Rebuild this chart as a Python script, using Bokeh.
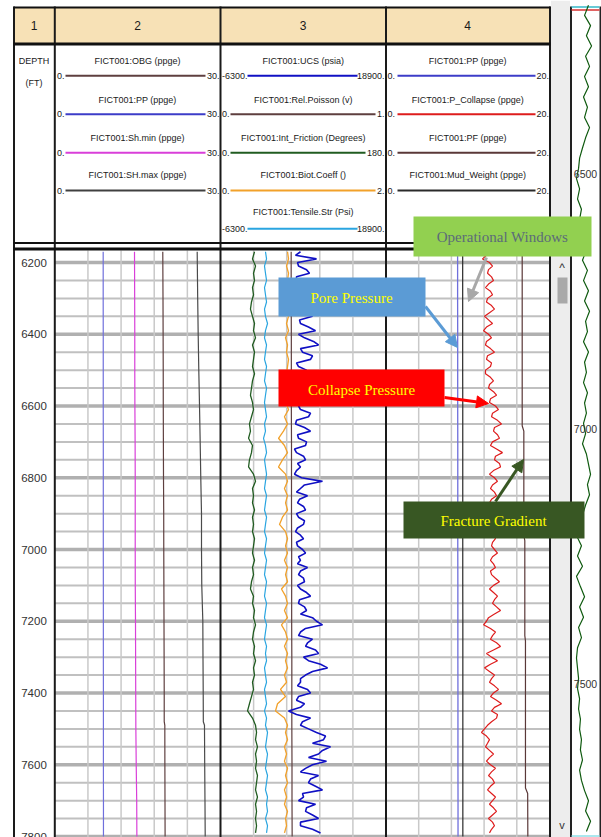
from bokeh.plotting import figure
from bokeh.models import Range1d, Arrow, NormalHead
from bokeh.core.properties import value
from bokeh.embed import file_html
from bokeh.resources import INLINE

# ---------------- data ----------------
DEPTH = list(range(6170, 7800, 20))       # sample depths (ft), 20 ft step
DEPTH_FINE = list(range(6170, 7800, 10))  # sample depths (ft), 10 ft step

UCS = [5880, 5120, 8320, 5430, 5580, 6800, 7250, 5270, 5270, 6340,
       6650, 5580, 5880, 6950, 7410, 5430, 5580, 6490, 7710, 5730,
       5880, 7100, 8170, 5580, 6490, 7860, 8630, 5880, 6190, 7710,
       7410, 5270, 5580, 6800, 6650, 5730, 5880, 6650, 7100, 5430,
       6190, 6950, 6800, 5580, 5880, 7410, 7100, 5270, 5120, 6490,
       7410, 5430, 5580, 6800, 6650, 4970, 5270, 6340, 6650, 5430,
       5880, 5270, 4970, 6040, 9230, 6490, 5880, 5270, 6950, 5730,
       5430, 6340, 6650, 5270, 5580, 6490, 6340, 5430, 5120, 5880,
       6340, 5270, 5430, 6190, 6650, 5580, 5880, 5430, 6950, 5880,
       5580, 6340, 6490, 5430, 5880, 6800, 7410, 5730, 5580, 6490,
       6800, 5880, 7710, 8320, 9230, 6650, 5880, 5580, 7710, 6950,
       6650, 8170, 8630, 6340, 7100, 8930, 10000, 7710, 6650, 5880,
       5880, 5430, 6950, 7410, 5580, 5270, 6490, 5880, 4060, 5270,
       7410, 6190, 5880, 7100, 8320, 9690, 9390, 7710, 10450, 9230,
       8630, 7100, 9840, 7710, 6650, 5880, 8630, 7410, 7100, 8170,
       9230, 6190, 6340, 5580, 8170, 6800, 6650, 7710, 8630, 5880,
       5880, 7710, 8930]

P_COLLAPSE = [12.78, 12.29, 11.80, 12.66, 13.03, 12.54, 12.42, 12.91, 13.15, 12.54,
              12.17, 12.78, 13.03, 12.42, 12.29, 12.91, 13.27, 12.66, 12.05, 12.54,
              13.03, 12.29, 11.93, 12.54, 12.91, 12.29, 12.17, 12.78, 13.27, 12.42,
              12.29, 12.91, 12.78, 12.17, 12.17, 12.78, 13.15, 12.66, 12.54, 13.15,
              13.52, 12.78, 12.66, 13.39, 13.76, 13.03, 12.91, 13.64, 14.13, 13.27,
              13.15, 13.64, 13.88, 13.03, 12.78, 13.52, 14.25, 13.39, 13.27, 13.88,
              14.01, 13.15, 12.66, 13.27, 13.64, 13.03, 12.78, 13.27, 13.52, 12.91,
              12.66, 13.15, 13.39, 12.78, 12.91, 13.39, 13.64, 13.03, 12.78, 13.27,
              13.39, 13.03, 12.91, 13.27, 13.64, 13.03, 12.78, 13.15, 13.39, 12.78,
              12.91, 13.39, 13.88, 13.15, 12.66, 13.15, 13.64, 13.27, 13.03, 13.52,
              14.01, 13.27, 12.54, 12.29, 11.93, 12.78, 13.39, 13.03, 12.78, 13.52,
              14.01, 13.15, 12.29, 12.91, 13.64, 12.78, 12.05, 12.66, 13.27, 12.91,
              12.66, 13.27, 13.76, 13.15, 12.78, 13.52, 14.13, 13.27, 12.91, 13.64,
              13.52, 12.91, 12.42, 12.05, 11.68, 12.29, 12.66, 12.42, 12.17, 12.66,
              13.15, 12.66, 12.29, 12.78, 13.39, 12.91, 12.54, 13.03, 13.27, 12.78,
              12.42, 12.91, 13.39, 13.03, 12.66, 13.15, 13.52, 13.03, 12.54, 13.03,
              13.27, 12.91, 12.66]

BIOT = [0.81, 0.822, 0.798, 0.822, 0.81, 0.798, 0.822, 0.81, 0.786, 0.822,
        0.798, 0.822, 0.786, 0.81, 0.798, 0.822, 0.81, 0.798, 0.822, 0.798,
        0.81, 0.786, 0.822, 0.773, 0.81, 0.761, 0.701, 0.773, 0.81, 0.749,
        0.701, 0.786, 0.81, 0.773, 0.81, 0.786, 0.81, 0.749, 0.713, 0.786,
        0.81, 0.786, 0.81, 0.773, 0.81, 0.786, 0.81, 0.737, 0.786, 0.81,
        0.773, 0.81, 0.737, 0.786, 0.81, 0.773, 0.81, 0.786, 0.81, 0.773,
        0.798, 0.725, 0.786, 0.689, 0.665, 0.773, 0.81, 0.786, 0.81, 0.773,
        0.798, 0.773, 0.81, 0.786, 0.81, 0.773, 0.798, 0.773, 0.81, 0.786,
        0.798, 0.773]

FRICTION = [37.0, 34.8, 38.1, 35.9, 37.0, 34.8, 35.9, 33.7, 32.6, 34.8,
            37.0, 35.9, 38.1, 34.8, 37.0, 35.9, 34.8, 37.0, 34.8, 33.7,
            32.6, 34.8, 35.9, 33.7, 31.5, 32.6, 30.5, 34.8, 33.7, 31.5,
            30.5, 35.9, 38.1, 34.8, 35.9, 34.8, 37.0, 34.8, 35.9, 34.8,
            37.0, 35.9, 34.8, 37.0, 34.8, 35.9, 33.7, 32.6, 35.9, 34.8,
            37.0, 35.9, 38.1, 35.9, 34.8, 37.0, 35.9, 38.1, 35.9, 37.0,
            34.8, 35.9, 33.7, 31.5, 29.4, 34.8, 38.1, 39.2, 38.1, 40.2,
            38.1, 39.2, 38.1, 40.2, 39.2, 38.1, 40.2, 38.1, 39.2, 38.1,
            39.2, 38.1]

TENSILE = [550, 710, 400, 550, 710, 400, 550, 710, 400, 550,
           860, 550, 400, 710, 550, 400, 710, 550, 400, 710,
           550, 400, 550, 710, 400, 550, 250, 550, 710, 400,
           550, 710, 550, 400, 710, 550, 400, 710, 550, 400,
           710, 550, 400, 710, 550, 400, 710, 550, 400, 710,
           550, 400, 710, 550, 400, 710, 550, 710, 400, 550,
           710, 400, 550, 710, 400, 710, 550, 860, 710, 550,
           860, 710, 550, 860, 710, 550, 860, 710, 860, 550,
           860, 710]

OVERVIEW_GR = [87, 68, 97, 77, 102, 73, 92, 68, 87, 63,
               82, 68, 92, 73, 58, 44, 39, 29, 44, 34,
               53, 44, 68, 48, 77, 58, 82, 63, 87, 68,
               92, 73, 82, 63, 87, 68, 77, 63, 82, 68,
               77, 63, 73, 58, 77, 87, 97, 82, 92, 73,
               58, 39, 29, 53, 34, 58, 29, 48, 68, 44,
               63, 39, 53, 34, 29, 34, 39, 34, 44, 39,
               48, 44, 53, 48, 58, 44, 53, 68, 87, 73,
               97, 77]

STRAIGHT_DEPTH = [6170, 6300, 6400, 6500, 6600, 6700, 6800, 6900, 7000, 7100,
                  7200, 7300, 7400, 7480, 7490, 7600, 7700, 7800]
OBG = [19.55, 19.59, 19.61, 19.63, 19.64, 19.66, 19.68, 19.72, 19.73, 19.75,
       19.77, 19.79, 19.81, 19.81, 19.92, 19.93, 19.95, 19.97]
SH_MAX = [25.78, 25.87, 25.96, 26.07, 26.20, 26.32, 26.43, 26.56, 26.56, 26.61,
          26.80, 26.83, 26.87, 26.89, 27.10, 27.14, 27.19, 27.23]
SH_MIN = [14.43, 14.46, 14.48, 14.48, 14.50, 14.54, 14.56, 14.56, 14.56, 14.57,
          14.61, 14.63, 14.65, 14.67, 14.67, 14.74, 14.83, 14.86]
PP = [8.76, 8.76, 8.77, 8.77, 8.77, 8.78, 8.78, 8.78, 8.78, 8.79,
      8.79, 8.79, 8.80, 8.80, 8.80, 8.80, 8.81, 8.81]
POISSON = [0.427, 0.427, 0.428, 0.428, 0.428, 0.429, 0.429, 0.429, 0.430, 0.430,
           0.430, 0.431, 0.431, 0.431, 0.431, 0.432, 0.432, 0.433]
MUD_WEIGHT = [9.38, 9.38, 9.38, 9.38, 9.39, 9.39, 9.39, 9.39, 9.39, 9.39,
              9.40, 9.40, 9.40, 9.40, 9.40, 9.40, 9.40, 9.40]

PF_DEPTH = [6170, 6655, 6670, 6960, 6975, 7240, 7255, 7665, 7680, 7800]
PF = [16.66, 16.66, 16.86, 16.86, 16.98, 16.98, 17.06, 17.06, 17.33, 17.35]

DEPTH_MAJOR = [6200, 6400, 6600, 6800, 7000, 7200, 7400, 7600, 7800]
DEPTH_MINOR = [6250, 6300, 6350, 6450, 6500, 6550, 6650, 6700, 6750, 6850, 6900, 6950,
               7050, 7100, 7150, 7250, 7300, 7350, 7450, 7500, 7550, 7650, 7700, 7750]
OVERVIEW_TICKS = [6500, 7000, 7500]

TRACK_TITLES = ["1", "2", "3", "4"]
T2_NAMES = ["FICT001:OBG (ppge)", "FICT001:PP (ppge)", "FICT001:Sh.min (ppge)", "FICT001:SH.max (ppge)"]
T2_LEFT = ["0.", "0.", "0.", "0."]
T2_RIGHT = ["30.", "30.", "30.", "30."]
T3_NAMES = ["FICT001:UCS (psia)", "FICT001:Rel.Poisson (v)", "FICT001:Int_Friction (Degrees)",
            "FICT001:Biot.Coeff ()", "FICT001:Tensile.Str (Psi)"]
T3_LEFT = ["-6300.", "0.", "0.", "0.", "-6300."]
T3_RIGHT = ["18900.", "1.", "180.", "2.", "18900."]
T4_NAMES = ["FICT001:PP (ppge)", "FICT001:P_Collapse (ppge)", "FICT001:PF (ppge)", "FICT001:Mud_Weight (ppge)"]
T4_LEFT = ["0.", "0.", "0.", "0."]
T4_RIGHT = ["20.", "20.", "20.", "20."]

# ---------------- styling ----------------
C_OBG = "#5e3f3f"
C_PP = "#3c3cc8"
C_SHMIN = "#d93fd9"
C_SHMAX = "#404040"
C_UCS = "#1010c4"
C_POIS = "#5e3f3f"
C_FRIC = "#215c21"
C_BIOT = "#f2a12a"
C_TENS = "#2aa5e0"
C_COLL = "#de1c1c"
C_PF = "#5a3838"
C_MW = "#2a2a2a"

SANS = value("Liberation Sans")
SERIF = value("Liberation Serif")

FX0, FX1, FY0, FY1 = 0, 601, 0, 837


def span_range(a, b, v0, v1):
    k = (v1 - v0) / (b - a)
    return Range1d(v0 - (a - FX0) * k, v1 + (FX1 - b) * k)


def depth_range(y_ref, d_ref, px_per_ft):
    return Range1d(d_ref + (FY1 - y_ref) / px_per_ft, d_ref - (y_ref - FY0) / px_per_ft)


T2 = (54.3, 220)
T3 = (220, 385.5)
T4 = (385.5, 549)

p = figure(width=601, height=837, x_range=Range1d(FX0, FX1), y_range=Range1d(FY1, FY0),
           output_backend="svg", toolbar_location=None, min_border=0,
           x_axis_location=None, y_axis_location=None, title=None)
p.xgrid.visible = False
p.ygrid.visible = False
p.outline_line_color = None
p.background_fill_color = "white"
p.border_fill_color = "white"

p.extra_x_ranges = {
    "t2": span_range(*T2, 0, 30),
    "ucs": span_range(*T3, -6300, 18900),
    "pois": span_range(*T3, 0, 1),
    "fric": span_range(*T3, 0, 180),
    "biot": span_range(*T3, 0, 2),
    "t4": span_range(*T4, 0, 20),
    "ov": span_range(570, 601, 0, 150),
}
p.extra_y_ranges = {
    "depth": depth_range(262, 6200, 0.35875),
    "ovdepth": depth_range(173, 6500, 0.51),
}


def txt(x, y, s, size, color="#1a1a1a", align="center", font=SANS, **kw):
    p.text(x=x, y=y, text=s, text_font=font, text_font_size=size, text_color=color,
           text_align=align, text_baseline="middle", **kw)


# scrollbar + overview strip backgrounds
p.quad(left=[550.5], right=[569.5], top=[0], bottom=[FY1], fill_color="#ededed", line_color=None)
p.quad(left=[557], right=[567], top=[277], bottom=[303], fill_color="#a9a9a9", line_color=None)
txt([561.5], [267], ["^"], "12px", color="#333333")
txt([561.5], [824], ["v"], "11px", color="#333333")
p.segment(x0=[570.5, 600], x1=[570.5, 600], y0=[6, 6], y1=[FY1, FY1], line_color="#222222", line_width=2)
p.segment(x0=[571, 571, 571], x1=[599, 599, 599], y0=[6.5, 9.5, 835.5], y1=[6.5, 9.5, 835.5],
          line_color=["#35b8c8", "#d83030", "#8fe0e8"], line_width=1.5)

# header band
p.quad(left=[13], right=[549], top=[7], bottom=[42.5], fill_color="#f7e1b6", line_color=None)
txt([33.5, 137, 302.7, 467.2], [25, 25, 25, 25], TRACK_TITLES, "12px")

# horizontal depth grid (tracks 2-4)
p.segment(x0=[T2[0]] * len(DEPTH_MINOR), x1=[T4[1]] * len(DEPTH_MINOR), y0=DEPTH_MINOR, y1=DEPTH_MINOR,
          y_range_name="depth", line_color="#c0c0c0", line_width=2)
p.segment(x0=[T2[0]] * len(DEPTH_MAJOR), x1=[T4[1]] * len(DEPTH_MAJOR), y0=DEPTH_MAJOR, y1=DEPTH_MAJOR,
          y_range_name="depth", line_color="#b0b0b0", line_width=3.5)

# vertical grids
for rname, ticks in (("t2", [6, 12, 18, 24]), ("pois", [0.2, 0.4, 0.6, 0.8]), ("t4", [4, 8, 12, 16])):
    p.segment(x0=ticks, x1=ticks, y0=[250] * 4, y1=[FY1] * 4, x_range_name=rname,
              line_color="#c9c9c9", line_width=1.5)

# depth labels
txt([33.5] * len(DEPTH_MAJOR), DEPTH_MAJOR, [str(d) for d in DEPTH_MAJOR], "11.5px",
    color="#333333", y_range_name="depth")

# track 2 curves
p.line(PP, STRAIGHT_DEPTH, x_range_name="t2", y_range_name="depth", line_color="#6f6fdc", line_width=1.2)
p.line(SH_MIN, STRAIGHT_DEPTH, x_range_name="t2", y_range_name="depth", line_color=C_SHMIN, line_width=1.2)
p.line(OBG, STRAIGHT_DEPTH, x_range_name="t2", y_range_name="depth", line_color=C_OBG, line_width=1.2)
p.line(SH_MAX, STRAIGHT_DEPTH, x_range_name="t2", y_range_name="depth", line_color="#4a4a4a", line_width=1.2)

# track 3 curves
p.line(FRICTION, DEPTH, x_range_name="fric", y_range_name="depth", line_color=C_FRIC, line_width=1.3)
p.line(TENSILE, DEPTH, x_range_name="ucs", y_range_name="depth", line_color=C_TENS, line_width=1.2)
p.line(BIOT, DEPTH, x_range_name="biot", y_range_name="depth", line_color=C_BIOT, line_width=1.3)
p.line(POISSON, STRAIGHT_DEPTH, x_range_name="pois", y_range_name="depth", line_color=C_POIS, line_width=1.2)
p.line(UCS, DEPTH_FINE, x_range_name="ucs", y_range_name="depth", line_color=C_UCS, line_width=1.6)

# track 4 curves
p.line(PP, STRAIGHT_DEPTH, x_range_name="t4", y_range_name="depth", line_color="#6f6fdc", line_width=1.3)
p.line(MUD_WEIGHT, STRAIGHT_DEPTH, x_range_name="t4", y_range_name="depth", line_color=C_MW, line_width=1.2)
p.line(P_COLLAPSE, DEPTH_FINE, x_range_name="t4", y_range_name="depth", line_color=C_COLL, line_width=1.2)
p.line(PF, PF_DEPTH, x_range_name="t4", y_range_name="depth", line_color=C_PF, line_width=1.2)

# overview strip
p.line(OVERVIEW_GR, DEPTH, x_range_name="ov", y_range_name="ovdepth", line_color="#0f5a0f", line_width=1.2)
txt([585] * 3, OVERVIEW_TICKS, [str(d) for d in OVERVIEW_TICKS], "10.5px", color="#333333",
    y_range_name="ovdepth")

# legend area
p.quad(left=[13], right=[549], top=[45], bottom=[241.5], fill_color="white", line_color=None)
txt([33.5, 33.5], [60, 82], ["DEPTH", "(FT)"], "9px")
NAME_Y = [60, 99, 137, 174, 211]
LINE_Y = [75.3, 113.7, 152.3, 190, 228.3]

t2_cols = [C_OBG, C_PP, C_SHMIN, C_SHMAX]
txt([137] * 4, NAME_Y[:4], T2_NAMES, "9px")
txt([56.5] * 4, LINE_Y[:4], T2_LEFT, "9px", align="left")
txt([219] * 4, LINE_Y[:4], T2_RIGHT, "9px", align="right")
p.segment(x0=[65] * 4, x1=[205] * 4, y0=LINE_Y[:4], y1=LINE_Y[:4], line_color=t2_cols, line_width=2)

t3_cols = [C_UCS, C_POIS, C_FRIC, C_BIOT, C_TENS]
t3_x0 = [247, 230, 230, 230, 247]
t3_x1 = [357, 375, 365, 375, 357]
txt([302.7] * 5, NAME_Y, T3_NAMES, "9px")
txt([221.5] * 5, LINE_Y, T3_LEFT, "9px", align="left")
txt([384] * 5, LINE_Y, T3_RIGHT, "9px", align="right")
p.segment(x0=t3_x0, x1=t3_x1, y0=LINE_Y, y1=LINE_Y, line_color=t3_cols, line_width=2)

t4_cols = [C_PP, C_COLL, C_PF, C_MW]
txt([467.2] * 4, NAME_Y[:4], T4_NAMES, "9px")
txt([387] * 4, LINE_Y[:4], T4_LEFT, "9px", align="left")
txt([548.5] * 4, LINE_Y[:4], T4_RIGHT, "9px", align="right")
p.segment(x0=[397] * 4, x1=[535] * 4, y0=LINE_Y[:4], y1=LINE_Y[:4], line_color=t4_cols, line_width=2)

# frame lines
p.segment(x0=[13.5, 549.5, T2[0], T3[0], T4[0]], x1=[13.5, 549.5, T2[0], T3[0], T4[0]],
          y0=[6] * 5, y1=[FY1] * 5, line_color="#1a1a1a", line_width=2)
p.segment(x0=[13] * 4, x1=[550] * 4, y0=[7, 43.5, 242.5, 248.5], y1=[7, 43.5, 242.5, 248.5],
          line_color="#111111", line_width=[2, 3, 2, 3])

# call-out boxes
p.quad(left=[413, 278, 278, 403], right=[591, 425, 444, 584], top=[216, 277, 369, 501],
       bottom=[256, 316, 406, 538], fill_color=["#92d050", "#5b9bd5", "#ff0000", "#385723"],
       line_color=None)
txt([502], [236], ["Operational Windows"], "15px", color="#5b6b79", font=SERIF)
txt([351, 361, 493], [297, 389, 520], ["Pore Pressure", "Collapse Pressure", "Fracture Gradient"],
    "15px", color="#ffff00", font=SERIF)

for (xs, ys, xe, ye, c) in ((486, 257, 468, 301, "#a8a8a8"), (425, 306, 457, 347, "#5b9bd5"),
                            (444, 397, 488, 403, "#ff0000"), (495, 501, 523, 459, "#385723")):
    p.add_layout(Arrow(end=NormalHead(size=12, fill_color=c, line_color=c),
                       x_start=xs, y_start=ys, x_end=xe, y_end=ye, line_color=c, line_width=3))

open("out.html", "w").write(file_html(p, INLINE))
